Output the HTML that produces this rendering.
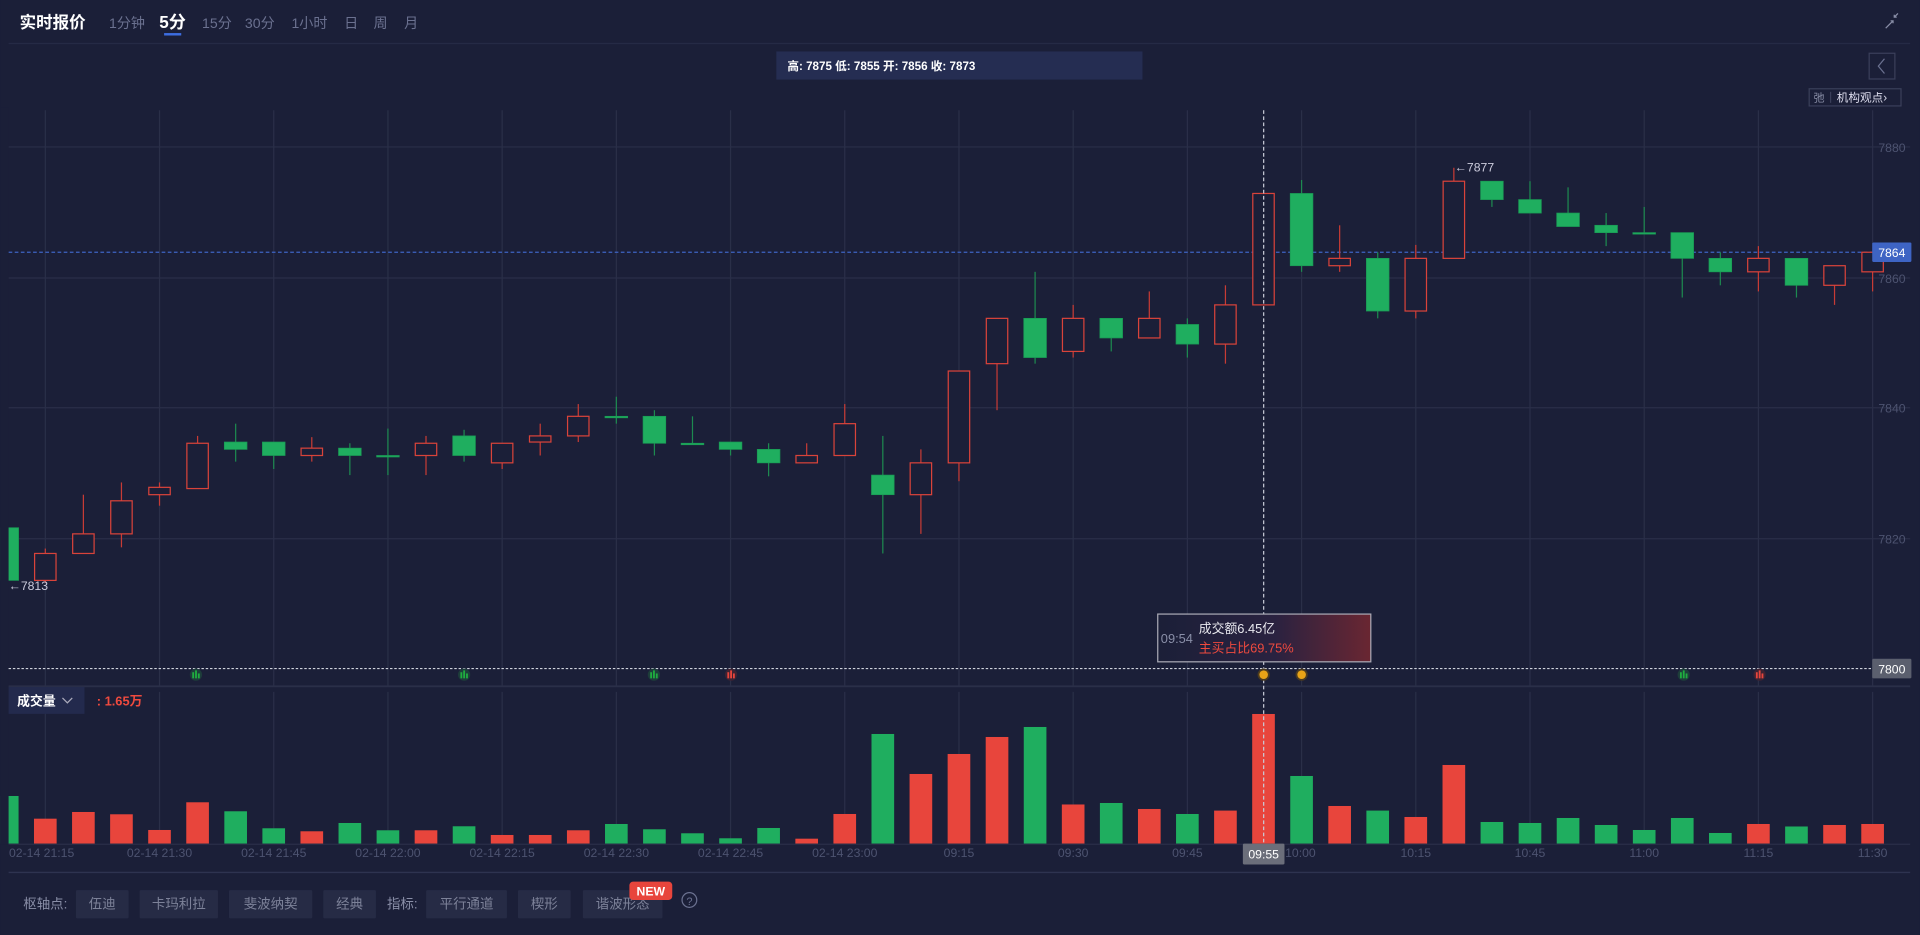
<!DOCTYPE html>
<html><head><meta charset="utf-8"><style>
html,body{margin:0;padding:0;background:#1b1f38;overflow:hidden}
svg{display:block}
text{font-family:"Liberation Sans","Noto Sans CJK SC",sans-serif}
</style></head><body>
<svg id="s" width="1920" height="935" viewBox="0 0 1568 763.6" xmlns="http://www.w3.org/2000/svg">
<rect width="1568" height="764" fill="#1b1f38"/>
<text x="16" y="23" font-size="13.5" font-weight="bold" fill="#fff">实时报价</text>
<g font-size="11.5" fill="#6b7190">
<text x="89" y="23">1分钟</text><text x="165" y="23">15分</text><text x="200" y="23">30分</text><text x="238" y="23">1小时</text><text x="281" y="23">日</text><text x="305" y="23">周</text><text x="330" y="23">月</text></g>
<text x="130" y="23" font-size="14" font-weight="bold" fill="#fff">5分</text>
<rect x="134" y="27" width="14" height="2" fill="#3d6de0"/>
<line x1="7" y1="35.5" x2="1560" y2="35.5" stroke="#252a45"/>
<path d="M1540 23 L1546 17 M1544 17 L1546 17 L1546 19 M1550 11 L1547 14 M1547 12 L1547 14 L1549 14" stroke="#8a8fa8" fill="none"/>
<rect x="634" y="42" width="299" height="23" fill="#252d52"/>
<text x="643" y="57" font-size="9.5" font-weight="bold" fill="#fff">高: 7875 低: 7855 开: 7856 收: 7873</text>
<rect x="1526.5" y="43.5" width="21" height="21" fill="none" stroke="#3a3f5a"/>
<path d="M1539 48 L1534 54 L1539 60" stroke="#6b7190" fill="none"/>
<rect x="1477.5" y="72.5" width="75" height="14" fill="none" stroke="#3a3f5a"/>
<text x="1481" y="83" font-size="9" fill="#8a8fa8">弛</text>
<line x1="1495" y1="75" x2="1495" y2="84" stroke="#3a3f5a"/>
<text x="1500" y="83" font-size="9.5" fill="#dde">机构观点›</text>
<g id="grid" stroke="#2a2f48" stroke-width="1"></g>
<g font-size="10" fill="#4d5370">
<text x="1534" y="124">7880</text><text x="1534" y="231">7860</text><text x="1534" y="337">7840</text><text x="1534" y="444">7820</text></g>
<line x1="7" y1="206" x2="1560" y2="206" stroke="#3e64c4" stroke-dasharray="3,2"/>
<g id="candles"></g>
<g id="vols"></g>
<rect x="0" y="88" width="7" height="602" fill="#1b1f38"/>
<line x1="7" y1="546" x2="1560" y2="546" stroke="#cfd2dc" stroke-dasharray="2,1.5"/>
<line x1="7" y1="560.5" x2="1560" y2="560.5" stroke="#2a2f48" stroke-width="1.5"/>
<line x1="1032" y1="90" x2="1032" y2="690" stroke="#c8cad6" stroke-dasharray="3,2"/>
<text x="7" y="482" font-size="10" fill="#ccd">←7813</text>
<text x="1188" y="140" font-size="10" fill="#ccd">←7877</text>
<rect x="1529" y="198" width="32" height="16" fill="#3e64c4" rx="1"/>
<text x="1545" y="210" font-size="10" fill="#fff" text-anchor="middle">7864</text>
<rect x="1529" y="538" width="32" height="16" fill="#5b5f6e" rx="1"/>
<text x="1545" y="550" font-size="10" fill="#fff" text-anchor="middle">7800</text>
<g id="sig"></g>
<defs><linearGradient id="tg" x1="0" x2="1"><stop offset="0" stop-color="#1b1f38"/><stop offset="0.55" stop-color="#2a2240"/><stop offset="1" stop-color="#6a2632"/></linearGradient></defs>
<rect x="945.5" y="501.5" width="174" height="39" fill="url(#tg)" stroke="#aaaab5"/>
<text x="948" y="525" font-size="10.5" fill="#8a8fa8">09:54</text>
<text x="979" y="517" font-size="10.5" fill="#e8e8ee">成交额6.45亿</text>
<text x="979" y="533" font-size="10.5" fill="#ef4a3e">主买占比69.75%</text>
<rect x="7" y="561" width="62" height="22" fill="#232a4d"/>
<text x="14" y="576" font-size="10.5" font-weight="bold" fill="#fff">成交量</text>
<path d="M51 570 L55 574 L59 570" stroke="#aab" fill="none"/>
<text x="79" y="576" font-size="10.5" font-weight="bold" fill="#ef4a3e">: 1.65万</text>
<line x1="7" y1="689.5" x2="1560" y2="689.5" stroke="#2a2f48"/>
<g id="tl" font-size="10" fill="#4d5370" text-anchor="middle"></g>
<rect x="1015" y="689" width="34" height="17" fill="#6b6e7a" rx="1"/>
<text x="1032" y="701" font-size="10" fill="#fff" text-anchor="middle">09:55</text>
<line x1="7" y1="712.5" x2="1560" y2="712.5" stroke="#2e3350" stroke-width="1.2"/>
<g id="btm" font-size="11" fill="#8a8fa8"></g>
</svg>
<script>
var NS="http://www.w3.org/2000/svg";
function el(p,t,a,tx){var e=document.createElementNS(NS,t);for(var k in a)e.setAttribute(k,a[k]);if(tx)e.textContent=tx;document.getElementById(p).appendChild(e);return e;}
for(var k=0;k<17;k++){var x=37+93.27*k;el('grid','line',{x1:x,y1:90,x2:x,y2:560});el('grid','line',{x1:x,y1:565,x2:x,y2:689});}
[120,227,333,440].forEach(function(y){el('grid','line',{x1:7,y1:y,x2:1560,y2:y});});
var C=[['G',431,474,431,474],['R',452,474,448,476],['R',436,452,404,452],['R',409,436,394,447],['R',398,404,394,413],['R',362,399,356,399],['G',361,367,346,377],['G',361,372,361,383],['R',366,372,357,377],['G',366,372,362,388],['G',372,372,350,388],['R',362,372,356,388],['G',356,372,351,377],['R',362,378,362,383],['R',356,361,346,372],['R',340,356,330,361],['G',340,340,324,346],['G',340,362,335,372],['G',362,362,340,362],['G',361,367,361,372],['G',367,378,362,389],['R',372,378,362,378],['R',346,372,330,372],['G',388,404,356,452],['R',378,404,367,436],['R',303,378,303,393],['R',260,297,260,335],['G',260,292,222,297],['R',260,287,249,292],['G',260,276,260,287],['R',260,276,238,276],['G',265,281,260,292],['R',249,281,233,297],['R',158,249,158,249],['G',158,217,147,222],['R',211,217,184,222],['G',211,254,206,260],['R',211,254,200,260],['R',148,211,137,211],['G',148,163,148,169],['G',163,174,148,174],['G',174,185,153,185],['G',184,190,174,201],['G',190,190,169,190],['G',190,211,190,243],['G',211,222,206,233],['R',211,222,201,238],['G',211,233,211,243],['R',217,233,217,249],['R',206,222,206,238]];
var sc=1568/1920;
var V=[['G',796],['R',818.7],['R',812],['R',814.3],['R',830],['R',802.3],['G',811.3],['G',828.3],['R',831.3],['G',823],['G',830.3],['R',830.3],['G',826.3],['R',835],['R',835],['R',830.3],['G',824],['G',829.3],['G',833.3],['G',838.3],['G',828],['R',838.7],['R',814],['G',734],['R',774],['R',754],['R',737],['G',727],['R',804.5],['G',803],['R',809],['G',814],['R',810.6],['R',714],['G',776],['R',806],['G',810.6],['R',817],['R',765],['G',822],['G',823],['G',818],['G',825],['G',830],['G',818],['G',833],['R',824],['G',826.5],['R',825],['R',824]];
var W=18.5;
C.forEach(function(c,i){var x=5.9+31.09*i;var g=c[0]=='G';var col=g?'#1fae5f':'#d9433a';
el('candles','line',{x1:x,y1:c[3],x2:x,y2:c[4],stroke:g?'#1d8a50':'#c73b35','stroke-width':1});
if(g){el('candles','rect',{x:x-W/2,y:c[1],width:W,height:Math.max(c[2]-c[1],1.2),fill:col,stroke:'#1a9a55','stroke-width':0.6});}
else{el('candles','rect',{x:x-W/2+0.5,y:c[1],width:W-1,height:Math.max(c[2]-c[1],1),fill:'#1b1f38',stroke:col,'stroke-width':1});}
var v=V[i];var top=v[1]*sc;el('vols','rect',{x:x-W/2,y:top,width:W,height:689-top,fill:v[0]=='G'?'#1fae5f':'#e8453c'});
});
var L=['02-14 21:15','02-14 21:30','02-14 21:45','02-14 22:00','02-14 22:15','02-14 22:30','02-14 22:45','02-14 23:00','09:15','09:30','09:45','10:00','10:15','10:45','11:00','11:15','11:30'];
L.forEach(function(t,k){var x=37+93.27*k;if(k==0)x=34;if(k==11)x=1062;el('tl','text',{x:x,y:700},t);});
[[160,'G'],[379,'G'],[534,'G'],[597,'R'],[1032,'O'],[1063,'O'],[1375,'G'],[1437,'R']].forEach(function(s){var c=s[1]=='G'?'#1fae3f':s[1]=='R'?'#e8453c':'#e8a317';var b=s[1]=='G'?'#1d3d3a':s[1]=='R'?'#3d2333':'#4a3a20';
el('sig','circle',{cx:s[0],cy:551,r:5,fill:b});
if(s[1]=='O'){el('sig','circle',{cx:s[0],cy:551,r:3.5,fill:c});}
else{el('sig','rect',{x:s[0]-3,y:549,width:1.5,height:5,fill:c});el('sig','rect',{x:s[0]-0.7,y:547.5,width:1.5,height:6.5,fill:c});el('sig','rect',{x:s[0]+1.6,y:550,width:1.5,height:4,fill:c});}});
el('btm','text',{x:19,y:742},'枢轴点:');el('btm','text',{x:316,y:742},'指标:');
[[62,105,'伍迪'],[114,178,'卡玛利拉'],[187,255,'斐波纳契'],[264,307,'经典'],[348,414,'平行通道'],[423,466,'楔形'],[476,541,'谐波形态']].forEach(function(b){el('btm','rect',{x:b[0],y:727,width:b[1]-b[0],height:23,fill:'#262b45',rx:1});el('btm','text',{x:(b[0]+b[1])/2,y:742,'text-anchor':'middle',fill:'#7d8299'},b[2]);});
el('btm','rect',{x:514,y:720,width:35,height:15,fill:'#e8453c',rx:3});
el('btm','text',{x:531.5,y:731.5,'text-anchor':'middle',fill:'#fff','font-size':10,'font-weight':'bold'},'NEW');
el('btm','circle',{cx:563,cy:735,r:6,fill:'none',stroke:'#6b7190'});
el('btm','text',{x:563,y:739,'text-anchor':'middle','font-size':9,fill:'#6b7190'},'?');
</script>
</body></html>
